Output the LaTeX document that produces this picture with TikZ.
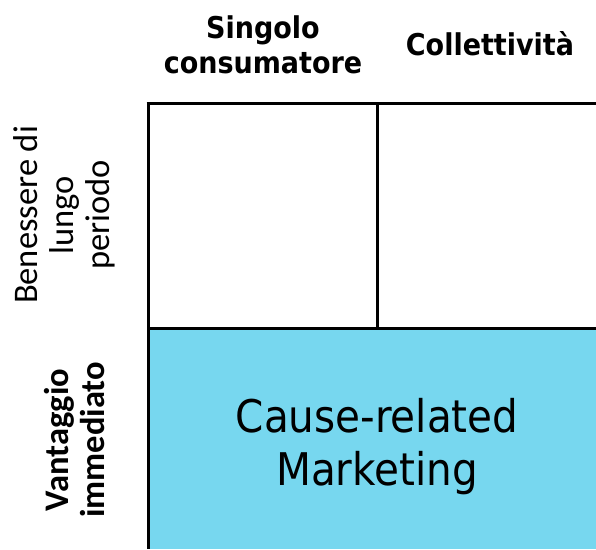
\documentclass[tikz,border=0pt]{standalone}
\usepackage{fontspec}
\newfontfamily\tahfont{DejaVu Sans Condensed}
\newfontfamily\carfont{Carlito}
\definecolor{cellcyan}{HTML}{77D7EF}
\tikzset{
  gridline/.style={line width=3pt, black},
  toplabel/.style={font=\tahfont\bfseries\fontsize{30}{35}\selectfont, align=center, inner sep=0pt},
  sidelabel/.style={font=\carfont\fontsize{34.5}{36}\selectfont, align=center, rotate=90, inner sep=0pt},
  sidebold/.style={font=\carfont\bfseries\fontsize{34.5}{36}\selectfont, align=center, rotate=90, inner sep=0pt},
  celltext/.style={font=\tahfont\fontsize{45}{53}\selectfont, align=center, inner sep=0pt}
}
\begin{document}
\begin{tikzpicture}[x=1pt,y=-1pt]
\useasboundingbox (0,0) rectangle (596,549);
\fill[cellcyan] (148,328) rectangle (596,549);
\draw[gridline] (146.5,103) -- (596,103);
\draw[gridline] (148,103) -- (148,549);
\draw[gridline] (377,103) -- (377,328);
\draw[gridline] (148,328) -- (596,328);
\node[toplabel] (singolo) at (263,45) {Singolo\\consumatore};
\node[toplabel] (coll) at (490,44) {Collettività};
\node[sidelabel] (benessere) at (64,215) {Benessere di\\lungo\\periodo};
\node[sidebold] (vantaggio) at (75,440) {Vantaggio\\immediato};
\node[celltext] (crm) at (377,447) {Cause-related\\Marketing};
\end{tikzpicture}
\end{document}
